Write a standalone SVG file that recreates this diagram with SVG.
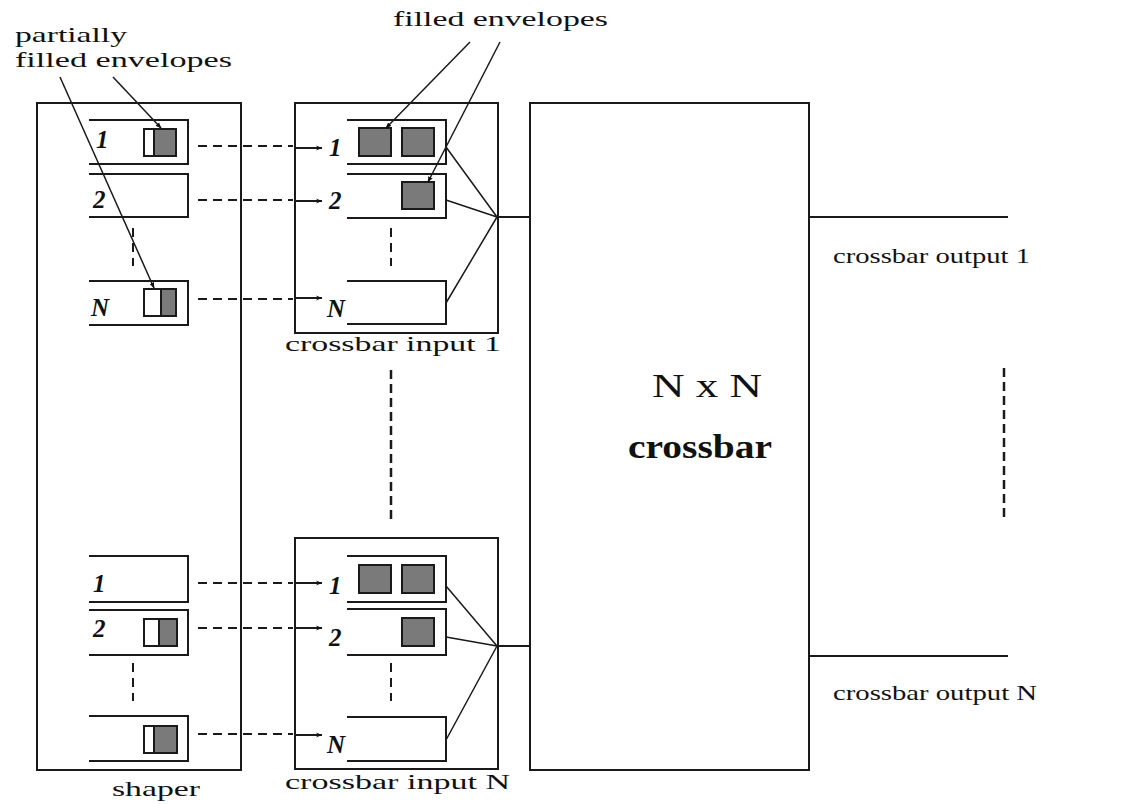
<svg xmlns="http://www.w3.org/2000/svg" width="1142" height="804" viewBox="0 0 1142 804">
<defs>
<style>
.box{fill:none;stroke:#1a1a1a;stroke-width:2}
.row{fill:none;stroke:#1a1a1a;stroke-width:2}
.env{fill:#7a7a7a;stroke:#1a1a1a;stroke-width:2}
.envw{fill:#ffffff;stroke:#1a1a1a;stroke-width:2}
.dash{fill:none;stroke:#1a1a1a;stroke-width:2;stroke-dasharray:9 6}
.vdash{fill:none;stroke:#1a1a1a;stroke-width:2.5;stroke-dasharray:9 5}
.line{fill:none;stroke:#1a1a1a;stroke-width:2}
.thin{fill:none;stroke:#1a1a1a;stroke-width:1.5}
.ptr{fill:none;stroke:#1a1a1a;stroke-width:1.5;marker-end:url(#ah)}
.t{font-family:"Liberation Serif",serif;font-size:21px;fill:#111}
.n{font-family:"Liberation Serif",serif;font-size:25px;font-weight:bold;font-style:italic;fill:#111}
.big{font-family:"Liberation Serif",serif;font-size:34px;fill:#111}
.bigb{font-family:"Liberation Serif",serif;font-size:34px;font-weight:bold;fill:#111}
</style>
<marker id="ah" viewBox="0 0 10 10" refX="9" refY="5" markerWidth="6" markerHeight="6" orient="auto" markerUnits="userSpaceOnUse">
<path d="M0,1 L10,5 L0,9 z" fill="#111"/>
</marker>
<marker id="sa" viewBox="0 0 10 10" refX="10" refY="5" markerWidth="8" markerHeight="6" orient="auto" markerUnits="userSpaceOnUse">
<path d="M0,1 L10,5 L0,9 L3,5 z" fill="#111"/>
</marker>
</defs>
<rect width="1142" height="804" fill="#ffffff"/>

<g id="shaper">
<rect class="box" x="37" y="103" width="204" height="667"/>
<g id="shaper-row1"><path class="row" d="M89,120 H188 V164 H89"/><rect class="envw" x="144" y="129" width="10" height="27"/><rect class="env" x="154" y="129" width="22" height="27"/><text class="n" x="96" y="148">1</text></g>
<g id="shaper-row2"><path class="row" d="M89,174 H188 V217 H89"/><text class="n" x="93" y="208">2</text></g>
<g id="shaper-rowN"><path class="row" d="M89,281 H188 V325 H89"/><rect class="envw" x="144" y="289" width="17" height="27"/><rect class="env" x="161" y="289" width="15" height="27"/><text class="n" x="91" y="316">N</text></g>
<path class="dash" d="M133,228 V266"/>
<g id="shaper-row1b"><path class="row" d="M89,556 H188 V602 H89"/><text class="n" x="93" y="592">1</text></g>
<g id="shaper-row2b"><path class="row" d="M89,610 H188 V655 H89"/><rect class="envw" x="144" y="619" width="15" height="27"/><rect class="env" x="159" y="619" width="18" height="27"/><text class="n" x="93" y="637">2</text></g>
<g id="shaper-rowNb"><path class="row" d="M89,716 H188 V761 H89"/><rect class="envw" x="144" y="726" width="10" height="27"/><rect class="env" x="154" y="726" width="23" height="27"/></g>
<path class="dash" d="M133,663 V701"/>
<text class="t" x="112" y="796" textLength="88" lengthAdjust="spacingAndGlyphs">shaper</text>
</g>

<g id="crossbar-input-1">
<rect class="box" x="295" y="103" width="203" height="230"/>
<path class="row" d="M347,120 H446 V164 H347"/>
<rect class="env" x="359" y="128" width="32" height="28"/>
<rect class="env" x="402" y="128" width="32" height="28"/>
<path class="row" d="M347,174 H446 V218 H347"/>
<rect class="env" x="402" y="182" width="32" height="27"/>
<path class="row" d="M347,281 H446 V324 H347"/>
<path class="dash" d="M391,228 V266"/>
<text class="n" x="329" y="156">1</text>
<text class="n" x="329" y="209">2</text>
<text class="n" x="327" y="317">N</text>
<text class="t" x="285" y="351" textLength="216" lengthAdjust="spacingAndGlyphs">crossbar input 1</text>
</g>

<g id="crossbar-input-N">
<rect class="box" x="295" y="538" width="203" height="231"/>
<path class="row" d="M347,556 H446 V602 H347"/>
<rect class="env" x="359" y="565" width="32" height="28"/>
<rect class="env" x="402" y="565" width="32" height="28"/>
<path class="row" d="M347,609 H446 V655 H347"/>
<rect class="env" x="402" y="618" width="32" height="28"/>
<path class="row" d="M347,717 H446 V761 H347"/>
<path class="dash" d="M391,663 V701"/>
<text class="n" x="329" y="594">1</text>
<text class="n" x="329" y="646">2</text>
<text class="n" x="327" y="753">N</text>
<text class="t" x="285" y="789" textLength="225" lengthAdjust="spacingAndGlyphs">crossbar input N</text>
</g>

<g id="crossbar">
<rect class="box" x="530" y="103" width="279" height="667"/>
<text class="big" x="652" y="397" textLength="110" lengthAdjust="spacingAndGlyphs">N x N</text>
<text class="bigb" x="628" y="458" textLength="144" lengthAdjust="spacingAndGlyphs">crossbar</text>
</g>

<g id="outputs">
<text class="t" x="833" y="263" textLength="197" lengthAdjust="spacingAndGlyphs">crossbar output 1</text>
<text class="t" x="833" y="700" textLength="204" lengthAdjust="spacingAndGlyphs">crossbar output N</text>
<path class="vdash" d="M1004,368 V522"/>
</g>

<g id="annotations">
<text class="t" x="15" y="42" textLength="112" lengthAdjust="spacingAndGlyphs">partially</text>
<text class="t" x="15" y="67" textLength="217" lengthAdjust="spacingAndGlyphs">filled envelopes</text>
<text class="t" x="393" y="26" textLength="215" lengthAdjust="spacingAndGlyphs">filled envelopes</text>
</g>

<g id="connectors">
<path class="dash" d="M198,146 H293"/>
<path class="dash" d="M198,200 H293"/>
<path class="dash" d="M198,299 H293"/>
<path class="dash" d="M198,583 H293"/>
<path class="dash" d="M198,628 H293"/>
<path class="dash" d="M198,734 H293"/>
<path class="line" d="M295,148 H322" marker-end="url(#sa)"/>
<path class="line" d="M295,201 H322" marker-end="url(#sa)"/>
<path class="line" d="M295,298 H322" marker-end="url(#sa)"/>
<path class="line" d="M295,583 H322" marker-end="url(#sa)"/>
<path class="line" d="M295,628 H322" marker-end="url(#sa)"/>
<path class="line" d="M295,735 H322" marker-end="url(#sa)"/>
<path class="thin" d="M446,147 L497,217 M446,200 L497,217 M446,303 L497,217"/>
<path class="line" d="M497,217 H530"/>
<path class="thin" d="M446,586 L497,646 M446,637 L497,646 M446,740 L497,646"/>
<path class="line" d="M497,646 H530"/>
<path class="line" d="M809,217 H1008"/>
<path class="line" d="M809,656 H1008"/>
<path class="vdash" d="M391,370 V522"/>
<path class="ptr" d="M60,77 L154,288"/>
<path class="ptr" d="M113,77 L161,128"/>
<path class="ptr" d="M470,42 L386,128"/>
<path class="ptr" d="M500,42 L428,182"/>
</g>
</svg>
